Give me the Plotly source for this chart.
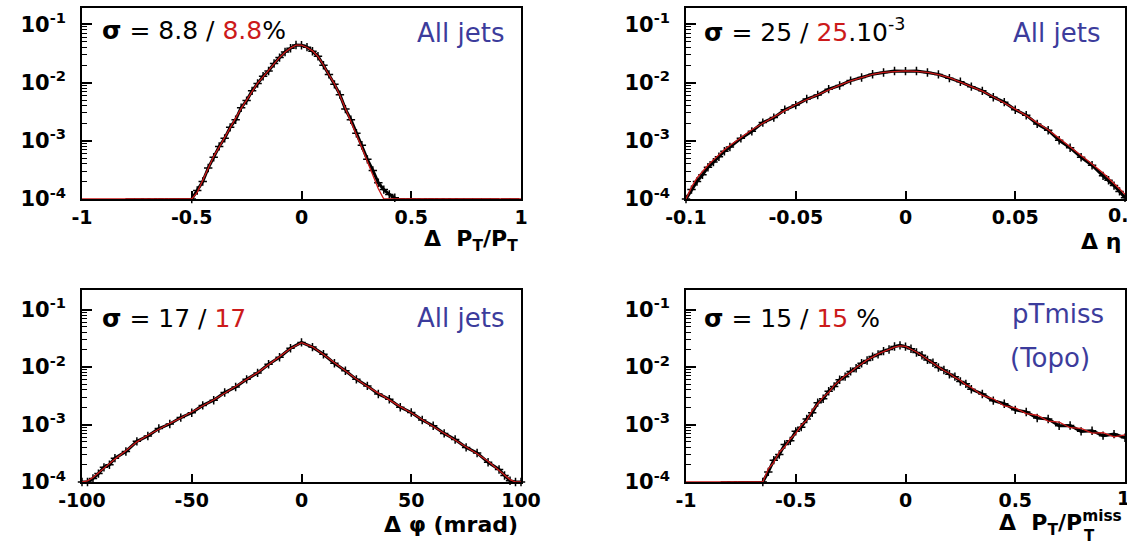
import plotly.graph_objects as go

# ---- panel 1 : delta pT / pT (all jets)
p1_x = [-0.5, -0.475, -0.45, -0.425, -0.4, -0.375, -0.35, -0.325, -0.3, -0.275, -0.25, -0.225, -0.2,
        -0.175, -0.15, -0.125, -0.1, -0.075, -0.05, -0.025, 0.0, 0.025, 0.05, 0.075, 0.1, 0.125, 0.15,
        0.175, 0.2, 0.225, 0.25, 0.275, 0.3, 0.325, 0.35, 0.375, 0.4, 0.425]
p1_data = [1.0e-4, 1.4e-4, 2.0e-4, 3.4e-4, 5.2e-4, 8.0e-4, 1.1e-3, 1.7e-3, 2.3e-3, 3.7e-3, 4.9e-3, 7.2e-3,
           9.6e-3, 0.0128, 0.0158, 0.0212, 0.0268, 0.0335, 0.0388, 0.0442, 0.0438, 0.0405, 0.0345, 0.0282,
           0.0198, 0.0138, 0.0093, 6.2e-3, 3.5e-3, 2.3e-3, 1.35e-3, 8.4e-4, 4.8e-4, 3.1e-4, 1.9e-4, 1.45e-4,
           1.2e-4, 1.05e-4]
p1_mc = [1.0e-4, 1.3e-4, 2.1e-4, 3.3e-4, 5.4e-4, 7.8e-4, 1.15e-3, 1.6e-3, 2.4e-3, 3.6e-3, 5.0e-3, 7.0e-3,
         9.8e-3, 0.0125, 0.016, 0.021, 0.027, 0.033, 0.039, 0.044, 0.044, 0.04, 0.035, 0.028, 0.02, 0.0135,
         0.0095, 6.0e-3, 3.6e-3, 2.2e-3, 1.3e-3, 7.6e-4, 4.4e-4, 2.5e-4, 1.5e-4, 1.0e-4, 1.0e-4, 1.0e-4]
p1_floor_x = [-0.78, -0.74, -0.71, -0.68, -0.65, -0.63, -0.6, -0.58, -0.56, -0.54, -0.52, 0.45, 0.47, 0.5,
              0.52, 0.55, 0.58, 0.6, 0.63, 0.66, 0.69, 0.72, 0.76, 0.8, 0.84, 0.88, 0.93, 0.97]
p1_edges = [-1.0, 1.0]
p1_ticks = [-1, -0.5, 0, 0.5, 1]
p1_ticktext = ["-1", "-0.5", "0", "0.5", "1"]

# ---- panel 2 : delta eta
p2_x = [-0.1, -0.0975, -0.095, -0.0925, -0.09, -0.0875, -0.085, -0.0825, -0.08, -0.075, -0.07, -0.065,
        -0.06, -0.055, -0.05, -0.045, -0.04, -0.035, -0.03, -0.025, -0.02, -0.015, -0.01, -0.005, 0.0,
        0.005, 0.01, 0.015, 0.02, 0.025, 0.03, 0.035, 0.04, 0.045, 0.05, 0.055, 0.06, 0.065, 0.07, 0.075,
        0.08, 0.085, 0.09, 0.0925, 0.095, 0.0975, 0.1]
p2_data = [1.0e-4, 1.45e-4, 2.0e-4, 2.6e-4, 3.5e-4, 4.3e-4, 5.3e-4, 6.6e-4, 7.8e-4, 1.1e-3, 1.45e-3,
           2.05e-3, 2.5e-3, 3.4e-3, 4.1e-3, 5.2e-3, 6.1e-3, 7.7e-3, 8.9e-3, 0.0108, 0.0122, 0.0139, 0.0149,
           0.0158, 0.0157, 0.0158, 0.0149, 0.0138, 0.0119, 0.0103, 8.5e-3, 7.2e-3, 5.6e-3, 4.6e-3, 3.4e-3,
           2.75e-3, 1.95e-3, 1.52e-3, 1.02e-3, 7.6e-4, 5.2e-4, 3.8e-4, 2.5e-4, 2.1e-4, 1.7e-4, 1.35e-4, 1.05e-4]
p2_mc = [1.0e-4, 1.6e-4, 2.3e-4, 3.0e-4, 3.8e-4, 4.7e-4, 5.8e-4, 7.0e-4, 8.3e-4, 1.15e-3, 1.55e-3, 2.0e-3,
         2.6e-3, 3.3e-3, 4.2e-3, 5.1e-3, 6.2e-3, 7.6e-3, 9.0e-3, 0.0107, 0.0123, 0.0138, 0.015, 0.0156,
         0.0158, 0.0156, 0.015, 0.0137, 0.0121, 0.0102, 8.6e-3, 7.1e-3, 5.7e-3, 4.5e-3, 3.5e-3, 2.7e-3,
         2.05e-3, 1.55e-3, 1.1e-3, 7.9e-4, 5.6e-4, 4.0e-4, 2.8e-4, 2.3e-4, 1.9e-4, 1.5e-4, 1.2e-4]
p2_ticks = [-0.1, -0.05, 0, 0.05, 0.1]
p2_ticktext = ["-0.1", "-0.05", "0", "0.05", "0.1"]

# ---- panel 3 : delta phi (mrad)
p3_x = [-100, -97.5, -95, -92.5, -90, -87.5, -85, -80, -75, -70, -65, -60, -55, -50, -45, -40, -35, -30,
        -25, -20, -15, -10, -5, 0, 5, 10, 15, 20, 25, 30, 35, 40, 45, 50, 55, 60, 65, 70, 75, 80, 85, 90,
        92.5, 95, 97.5, 100]
p3_data = [1.0e-4, 1.0e-4, 1.15e-4, 1.4e-4, 1.8e-4, 2.0e-4, 2.6e-4, 3.4e-4, 5.1e-4, 6.3e-4, 8.5e-4, 1.02e-3,
           1.32e-3, 1.6e-3, 2.15e-3, 2.65e-3, 3.6e-3, 4.5e-3, 6.1e-3, 7.9e-3, 0.0112, 0.0148, 0.0212, 0.0268,
           0.0222, 0.0167, 0.0116, 8.6e-3, 6.1e-3, 4.7e-3, 3.4e-3, 2.75e-3, 2.0e-3, 1.62e-3, 1.2e-3, 9.5e-4,
           7.0e-4, 5.5e-4, 4.0e-4, 3.2e-4, 2.2e-4, 1.65e-4, 1.3e-4, 1.05e-4, 1.0e-4, 1.0e-4]
p3_mc = [1.0e-4, 1.05e-4, 1.2e-4, 1.45e-4, 1.75e-4, 2.1e-4, 2.5e-4, 3.5e-4, 5.0e-4, 6.5e-4, 8.3e-4, 1.05e-3,
         1.3e-3, 1.65e-3, 2.1e-3, 2.7e-3, 3.5e-3, 4.6e-3, 6.0e-3, 8.0e-3, 0.011, 0.015, 0.021, 0.0265, 0.0225,
         0.0165, 0.0118, 8.5e-3, 6.2e-3, 4.6e-3, 3.5e-3, 2.7e-3, 2.05e-3, 1.6e-3, 1.22e-3, 9.3e-4, 7.1e-4,
         5.4e-4, 4.1e-4, 3.1e-4, 2.3e-4, 1.6e-4, 1.3e-4, 1.1e-4, 1.0e-4, 1.0e-4]
p3_ticks = [-100, -50, 0, 50, 100]
p3_ticktext = ["-100", "-50", "0", "50", "100"]

# ---- panel 4 : delta pT / pTmiss (Topo)
p4_x = [-0.65, -0.625, -0.6, -0.575, -0.55, -0.525, -0.5, -0.475, -0.45, -0.425, -0.4, -0.375, -0.35,
        -0.325, -0.3, -0.275, -0.25, -0.225, -0.2, -0.175, -0.15, -0.125, -0.1, -0.075, -0.05, -0.025, 0.0,
        0.025, 0.05, 0.075, 0.1, 0.125, 0.15, 0.175, 0.2, 0.225, 0.25, 0.275, 0.3, 0.35, 0.4, 0.45, 0.5,
        0.55, 0.6, 0.65, 0.7, 0.75, 0.8, 0.85, 0.9, 0.95, 1.0]
p4_data = [1.0e-4, 1.5e-4, 2.4e-4, 3.0e-4, 4.5e-4, 5.2e-4, 7.6e-4, 9.0e-4, 1.25e-3, 1.6e-3, 2.4e-3, 2.8e-3,
           3.8e-3, 4.6e-3, 6.0e-3, 6.8e-3, 8.4e-3, 9.5e-3, 0.0116, 0.013, 0.0152, 0.0166, 0.0189, 0.0202,
           0.0227, 0.0238, 0.0226, 0.0208, 0.0179, 0.016, 0.0133, 0.0119, 9.8e-3, 8.9e-3, 7.5e-3, 6.8e-3,
           5.6e-3, 5.1e-3, 4.1e-3, 3.4e-3, 2.6e-3, 2.3e-3, 1.8e-3, 1.65e-3, 1.3e-3, 1.25e-3, 9.5e-4, 9.6e-4,
           7.6e-4, 7.8e-4, 6.4e-4, 6.8e-4, 5.9e-4]
p4_mc = [1.0e-4, 1.7e-4, 2.2e-4, 3.3e-4, 4.1e-4, 5.6e-4, 7.0e-4, 9.7e-4, 1.18e-3, 1.75e-3, 2.25e-3, 3.0e-3,
         3.6e-3, 4.8e-3, 5.8e-3, 7.1e-3, 8.1e-3, 9.8e-3, 0.0113, 0.0133, 0.0149, 0.0169, 0.0185, 0.0206,
         0.0222, 0.0234, 0.0229, 0.0204, 0.0183, 0.0157, 0.0137, 0.0116, 0.0101, 8.7e-3, 7.8e-3, 6.6e-3,
         5.9e-3, 4.9e-3, 4.4e-3, 3.2e-3, 2.8e-3, 2.1e-3, 1.95e-3, 1.55e-3, 1.45e-3, 1.15e-3, 1.1e-3, 8.8e-4,
         8.6e-4, 7.1e-4, 7.2e-4, 6.1e-4, 6.6e-4]
p4_floor_x = [-0.82, -0.79, -0.76, -0.74, -0.72, -0.7, -0.68, -0.66]
p4_edges = [-1.0, 1.0]

y_ticks = [1e-4, 1e-3, 1e-2, 1e-1]
y_ticktext = ["10<sup>-4</sup>", "10<sup>-3</sup>", "10<sup>-2</sup>", "10<sup>-1</sup>"]
y_minor = [m * d for d in [1e-4, 1e-3, 1e-2] for m in range(2, 10)]

W, H = 1127, 546
FLOOR = 1e-4
RED = "#cc1a1a"
BLUE = "#3c3c9c"


def px(x):
    return x / W


def py(y):
    return 1 - y / H


fig = go.Figure()


def add_panel(n, x, data, mc, mc_x=None, floor_x=None):
    xa = "x" if n == 1 else "x%d" % n
    ya = "y" if n == 1 else "y%d" % n
    fig.add_trace(go.Scatter(x=x, y=data, mode="lines+markers", xaxis=xa, yaxis=ya,
                             line=dict(color="black", width=3),
                             marker=dict(symbol="cross-thin", size=6, line=dict(color="black", width=1.5)),
                             cliponaxis=False, showlegend=False))
    if floor_x:
        fig.add_trace(go.Scatter(x=floor_x, y=[FLOOR for _ in floor_x], mode="markers", xaxis=xa, yaxis=ya,
                                 marker=dict(symbol="line-ew", size=7, line=dict(color="black", width=1.6)),
                                 cliponaxis=False, showlegend=False))
    fig.add_trace(go.Scatter(x=mc_x if mc_x else x, y=mc, mode="lines", xaxis=xa, yaxis=ya,
                             line=dict(color=RED, width=1.3), cliponaxis=False, showlegend=False))


add_panel(1, p1_x, p1_data, [FLOOR] + p1_mc + [FLOOR], [p1_edges[0]] + p1_x + [p1_edges[1]], p1_floor_x)
add_panel(2, p2_x, p2_data, p2_mc)
add_panel(3, p3_x, p3_data, p3_mc)
add_panel(4, p4_x, p4_data, [FLOOR] + p4_mc, [p4_edges[0]] + p4_x, p4_floor_x)

xfont = dict(family="DejaVu Sans", size=19, color="black", weight="bold")
yfont = dict(family="DejaVu Sans", size=21, color="black", weight="bold")


def xaxis(dom, anchor, rng, ticks, text):
    return dict(domain=dom, anchor=anchor, range=rng, tickvals=ticks, ticktext=text, ticks="inside",
                ticklen=8, tickwidth=1.5, tickcolor="black", showline=True, mirror=True, linecolor="black",
                linewidth=1.5, showgrid=False, zeroline=False, tickfont=xfont, layer="below traces",
                automargin=False, ticklabelstandoff=0)


def yaxis(dom, anchor, top):
    return dict(domain=dom, anchor=anchor, type="log", range=[-4, top], tickvals=y_ticks,
                ticktext=y_ticktext, ticks="inside", ticklen=10, tickwidth=1.5, tickcolor="black",
                minor=dict(tickvals=y_minor, ticks="inside", ticklen=5, tickwidth=1, tickcolor="black"),
                showline=True, mirror=True, linecolor="black", linewidth=1.5, showgrid=False,
                zeroline=False, tickfont=yfont, ticklabelstandoff=10, layer="below traces",
                automargin=False)


xl = [px(82), px(521)]
xr = [px(686), px(1125)]
yt = [py(199), py(8)]
yb = [py(482), py(290)]

fig.update_layout(
    width=W, height=H, margin=dict(l=0, r=0, t=0, b=0),
    paper_bgcolor="white", plot_bgcolor="white",
    xaxis=xaxis(xl, "y", [-1, 1], p1_ticks, p1_ticktext),
    yaxis=yaxis(yt, "x", -0.72),
    xaxis2=xaxis(xr, "y2", [-0.1, 0.1], p2_ticks, p2_ticktext),
    yaxis2=yaxis(yt, "x2", -0.72),
    xaxis3=xaxis(xl, "y3", [-100, 100], p3_ticks, p3_ticktext),
    yaxis3=yaxis(yb, "x3", -0.66),
    xaxis4=xaxis(xr, "y4", [-1, 1], p1_ticks, p1_ticktext),
    yaxis4=yaxis(yb, "x4", -0.66),
)

txt = dict(family="DejaVu Sans", size=25, color="black")
bold = dict(family="DejaVu Sans", size=22, color="black", weight="bold")
small_bold = dict(family="DejaVu Sans", size=15, color="black", weight="bold")
blue = dict(family="DejaVu Sans", size=26, color=BLUE)


def red(s):
    return "<span style='color:%s'>%s</span>" % (RED, s)


notes = [
    ("<b>σ</b> = 8.8 / " + red("8.8") + "%", 100, 30, "left", txt),
    ("All jets", 506, 33, "right", blue),
    ("Δ&nbsp;&nbsp;P<sub>T</sub>/P<sub>T</sub>", 520, 240, "right", bold),
    ("<b>σ</b> = 25 / " + red("25") + ".10<sup>-3</sup>", 702, 30, "left", txt),
    ("All jets", 1102, 33, "right", blue),
    ("Δ η", 1123, 241, "right", bold),
    ("<b>σ</b> = 17 / " + red("17"), 100, 318, "left", txt),
    ("All jets", 506, 318, "right", blue),
    ("Δ&nbsp;φ (mrad)", 520, 524, "right", bold),
    ("<b>σ</b> = 15 / " + red("15") + " %", 702, 318, "left", txt),
    ("pTmiss", 1106, 314, "right", blue),
    ("(Topo)", 1092, 358, "right", blue),
    ("Δ&nbsp;&nbsp;P<sub>T</sub>/P<sup>miss</sup>", 1124, 523, "right", bold),
    ("T", 1082, 536, "left", small_bold),
    # edge tick labels that run off the right side of the page
    ("0.1", 1125, 215, "center", xfont),
    ("1", 1123, 498, "center", xfont),
]
for text, x, y, anchor, font in notes:
    fig.add_annotation(text=text, x=px(x), y=py(y), xref="paper", yref="paper", xanchor=anchor,
                       yanchor="middle", showarrow=False, font=font)

fig.write_html("out.html", config={"displayModeBar": False},
               post_script="document.body.style.margin='0';document.body.style.overflow='hidden';")
